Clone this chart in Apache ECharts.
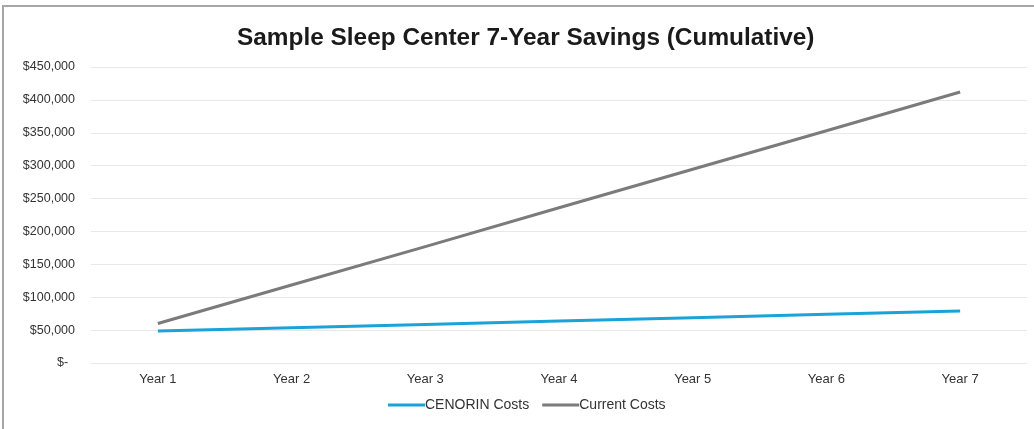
<!DOCTYPE html>
<html>
<head>
<meta charset="utf-8">
<script src="https://cdn.jsdelivr.net/npm/echarts@6/dist/echarts.min.js"></script>
<style>
  html, body { margin: 0; padding: 0; background: #fff; }
  #main { width: 1034px; height: 429px; }
</style>
</head>
<body>
<div id="main"></div>
<script>
var years = ['Year 1', 'Year 2', 'Year 3', 'Year 4', 'Year 5', 'Year 6', 'Year 7'];
var cenorinCosts = [48500, 53600, 58700, 63800, 68900, 74000, 79100];
var currentCosts = [60000, 118500, 177000, 236000, 294500, 353000, 412000];

var myChart = echarts.init(document.getElementById('main'));

var option = {
    animation: false,
    backgroundColor: '#fff',
    graphic: [{
        type: 'rect',
        shape: { x: 3, y: 6, width: 1040, height: 440 },
        style: { fill: 'none', stroke: '#a6a6a6', lineWidth: 2 }
    }],
    title: {
        text: 'Sample Sleep Center 7-Year Savings (Cumulative)',
        left: 232,
        top: 21,
        textStyle: {
            fontFamily: 'Liberation Sans',
            fontWeight: 'bold',
            fontSize: 24.4,
            color: '#1a1a1a'
        }
    },
    legend: {
        bottom: 12,
        left: 383,
        itemWidth: 37,
        itemHeight: 3,
        itemGap: 13,
        icon: 'rect',
        textStyle: {
            fontFamily: 'Liberation Sans',
            fontSize: 14,
            color: '#333',
            padding: [0, 0, 0, -5]
        },
        data: ['CENORIN Costs', 'Current Costs']
    },
    grid: {
        left: 91,
        right: 7,
        top: 67,
        bottom: 66
    },
    xAxis: {
        type: 'category',
        data: years,
        boundaryGap: true,
        axisLine: { show: false },
        axisTick: { show: false },
        axisLabel: {
            margin: 10,
            fontFamily: 'Liberation Sans',
            fontSize: 13,
            color: '#333'
        }
    },
    yAxis: {
        type: 'value',
        min: 0,
        max: 450000,
        interval: 50000,
        axisLine: { show: false },
        axisTick: { show: false },
        splitLine: { lineStyle: { color: '#e8e8e8', width: 1 } },
        axisLabel: {
            margin: 16,
            fontFamily: 'Liberation Sans',
            fontSize: 12.5,
            color: '#333',
            formatter: function (val) {
                if (val === 0) return '$-  ';
                return '$' + val.toLocaleString('en-US');
            }
        }
    },
    series: [{
        name: 'CENORIN Costs',
        type: 'line',
        data: cenorinCosts,
        symbol: 'none',
        itemStyle: { color: '#1aa3d9' },
        lineStyle: { color: '#1aa3d9', width: 3 }
    }, {
        name: 'Current Costs',
        type: 'line',
        data: currentCosts,
        symbol: 'none',
        itemStyle: { color: '#7b7b7b' },
        lineStyle: { color: '#7b7b7b', width: 3 }
    }]
};

myChart.setOption(option);
</script>
</body>
</html>
